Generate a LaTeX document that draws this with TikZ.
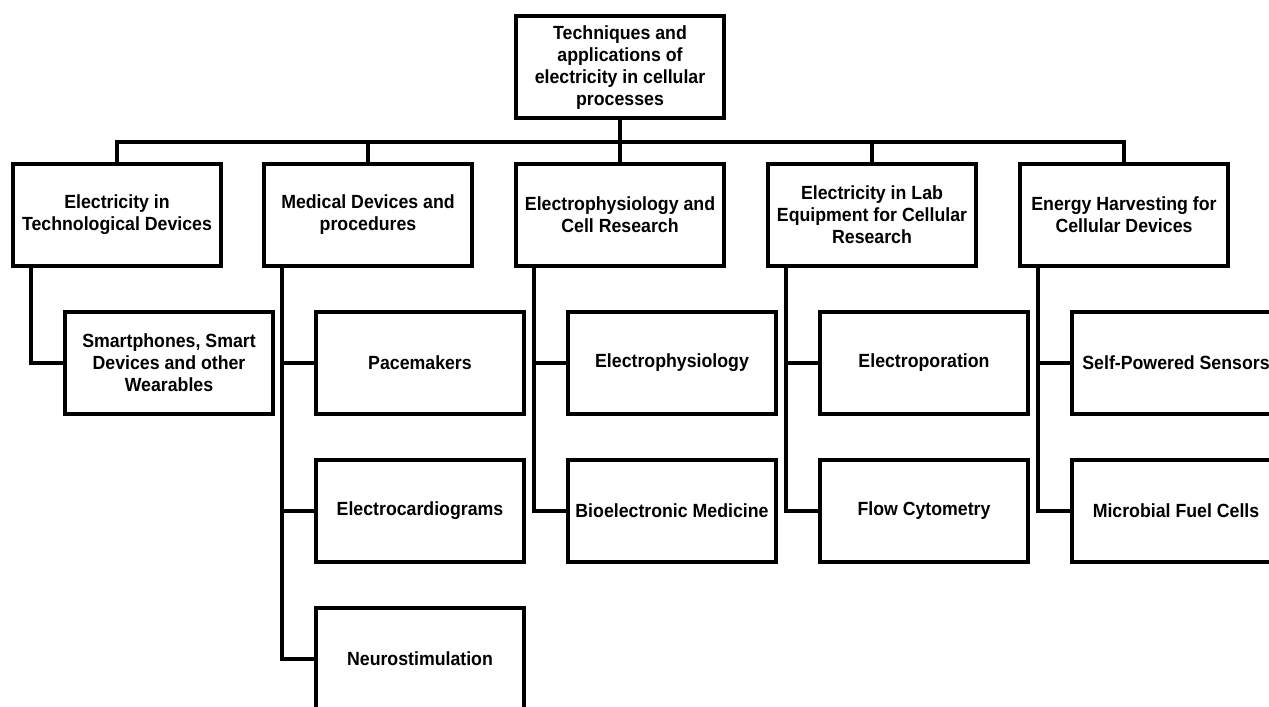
\documentclass[tikz,border=0pt]{standalone}
\usepackage{fontspec}
\setmainfont{Liberation Sans}[FakeStretch=0.93]

\begin{document}
\begin{tikzpicture}[x=0.75pt, y=-0.75pt,
	line cap=rect, line join=miter,
	box/.style={draw, line width=3pt, minimum width=156pt, minimum height=76.5pt,
		inner sep=2pt, align=center, font=\bfseries\fontsize{14.3}{16.5}\selectfont},
	link/.style={black, line width=3pt}]
	
	\useasboundingbox (0,0) rectangle (1269,706);
	
	\node [box] (root) at (620,67.5) {Techniques and\\applications of\\electricity in cellular\\processes};
	
	%level one
	\node [box] (tech) at (117,215) {Electricity in\\Technological Devices};
	\node [box] (med) at (368,215) {Medical Devices and\\procedures};
	\node [box] (phys) at (620,215) {Electrophysiology and\\Cell Research};
	\node [box] (lab) at (872,215) {Electricity in Lab\\Equipment for Cellular\\Research};
	\node [box] (energy) at (1124,215) {Energy Harvesting for\\Cellular Devices};
	
	%level two
	\node [box] (smart) at (169,362.5) {Smartphones, Smart\\Devices and other\\Wearables};
	\node [box] (pace) at (420,362.5) {Pacemakers};
	\node [box] (ecg) at (420,510.5) {Electrocardiograms};
	\node [box] (neuro) at (420,659) {Neurostimulation};
	\node [box] (ephys) at (672,362.5) {Electrophysiology};
	\node [box] (bioel) at (672,510.5) {Bioelectronic Medicine};
	\node [box] (poration) at (924,362.5) {Electroporation};
	\node [box] (flow) at (924,510.5) {Flow Cytometry};
	\node [box] (sensors) at (1176,362.5) {Self-Powered Sensors};
	\node [box] (fuel) at (1176,510.5) {Microbial Fuel Cells};
	
	\coordinate (bus) at (620,142);
	
	\foreach \n in {tech,med,phys,lab,energy}
	\draw [link] (root.south) -- (bus) -| (\n.north);
	
	\draw [link] ([xshift=15pt]tech.south west) |- (smart.west);
	\foreach \n in {pace,ecg,neuro}
	\draw [link] ([xshift=15pt]med.south west) |- (\n.west);
	\foreach \n in {ephys,bioel}
	\draw [link] ([xshift=15pt]phys.south west) |- (\n.west);
	\foreach \n in {poration,flow}
	\draw [link] ([xshift=15pt]lab.south west) |- (\n.west);
	\foreach \n in {sensors,fuel}
	\draw [link] ([xshift=15pt]energy.south west) |- (\n.west);
	
\end{tikzpicture}
\end{document}
